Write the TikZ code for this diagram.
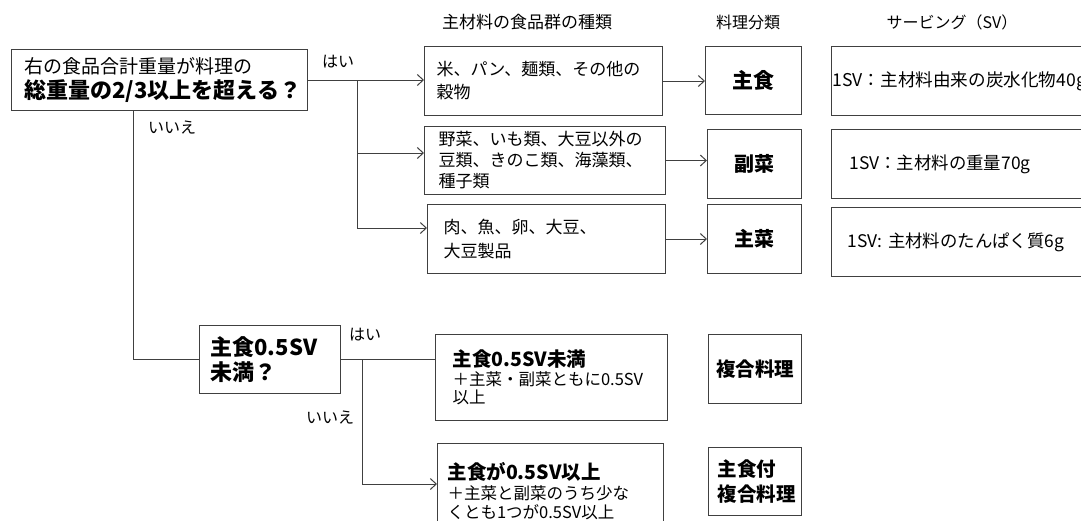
\documentclass[tikz,border=0pt]{standalone}
\usepackage{fontspec}
\setmainfont{Noto Sans CJK JP}
\usetikzlibrary{arrows.meta}
\definecolor{linec}{gray}{0.25}
\begin{document}
\begin{tikzpicture}[x=1pt,y=-1pt,
  ln/.style={draw=linec,line width=1pt},
  arr/.style={ln,-{Straight Barb[length=6pt,width=11pt,line width=1pt]}},
  bx/.style={draw=linec,line width=1pt,anchor=north west,inner ysep=0pt,align=left},
  cbx/.style={draw=linec,line width=1pt,anchor=north west,inner ysep=0pt,align=center},
  lbl/.style={inner sep=0pt,font=\fontsize{16pt}{20pt}\selectfont}
]
\useasboundingbox (0,0) rectangle (1081,520);
\clip (0,0) rectangle (1081,520);

% headers
\node[lbl,font=\fontsize{17pt}{20pt}\selectfont] (h1) at (527,22) {主材料の食品群の種類};
\node[lbl] (h2) at (748,22) {料理分類};
\node[lbl] (h3) at (952,22) {サービング（SV）};

% first question
\node[bx,minimum width=296pt,minimum height=61pt,text width=270pt,inner xsep=13pt,
      font=\fontsize{19pt}{25pt}\selectfont] (q1) at (11,49)
  {右の食品合計重量が料理の\\{\fontsize{22pt}{25pt}\selectfont\bfseries 総重量の2/3以上を超える？}};

% food groups
\node[bx,minimum width=238pt,minimum height=69pt,text width=214pt,inner xsep=12pt,
      font=\fontsize{17pt}{23pt}\selectfont] (a1) at (424,46)
  {米、パン、麺類、その他の\\穀物};
\node[bx,minimum width=241pt,minimum height=68pt,text width=213pt,inner xsep=14pt,
      font=\fontsize{17pt}{21pt}\selectfont] (a2) at (424,126)
  {野菜、いも類、大豆以外の\\豆類、きのこ類、海藻類、\\種子類};
\node[bx,minimum width=238pt,minimum height=69pt,text width=206pt,inner xsep=16pt,
      font=\fontsize{17pt}{24pt}\selectfont] (a3) at (427,204)
  {肉、魚、卵、大豆、\\大豆製品\\[6pt]};

% categories
\node[cbx,minimum width=96pt,minimum height=68pt,text width=90pt,inner xsep=3pt,
      font=\fontsize{21pt}{25pt}\selectfont\bfseries] (c1) at (705,46) {主食};
\node[cbx,minimum width=94pt,minimum height=69pt,text width=88pt,inner xsep=3pt,
      font=\fontsize{20pt}{25pt}\selectfont\bfseries] (c2) at (707,129) {副菜};
\node[cbx,minimum width=94pt,minimum height=69pt,text width=88pt,inner xsep=3pt,
      font=\fontsize{20pt}{25pt}\selectfont\bfseries] (c3) at (707,204) {主菜};

% servings
\node[bx,minimum width=300pt,minimum height=69pt,text width=298pt,inner xsep=1pt,
      font=\fontsize{17.6pt}{23pt}\selectfont] (s1) at (831,46) {1SV：主材料由来の炭水化物40g};
\node[bx,minimum width=300pt,minimum height=69pt,text width=264pt,inner xsep=18pt,
      font=\fontsize{17.4pt}{23pt}\selectfont] (s2) at (831,129) {1SV：主材料の重量70g};
\node[bx,minimum width=300pt,minimum height=69pt,text width=268pt,inner xsep=16pt,
      font=\fontsize{17.4pt}{23pt}\selectfont] (s3) at (831,207) {1SV: 主材料のたんぱく質6g};

% second question
\node[bx,minimum width=141pt,minimum height=68pt,text width=119pt,inner xsep=11pt,
      font=\fontsize{22pt}{25pt}\selectfont\bfseries] (q2) at (199,325)
  {主食0.5SV\\未満？};

\node[bx,minimum width=232pt,minimum height=86pt,text width=198pt,inner xsep=17pt,
      font=\fontsize{16.5pt}{18.5pt}\selectfont] (b1) at (435,334)
  {{\fontsize{19.5pt}{18.5pt}\selectfont\bfseries 主食0.5SV未満}\\＋主菜・副菜ともに0.5SV\\以上\\[14pt]};
\node[bx,minimum width=226pt,minimum height=96pt,text width=206pt,inner xsep=10pt,
      font=\fontsize{16.5pt}{19.5pt}\selectfont] (b2) at (437,443)
  {{\fontsize{19.5pt}{19.5pt}\selectfont\bfseries 主食が0.5SV以上}\\＋主菜と副菜のうち少な\\くとも1つが0.5SV以上};

\node[cbx,minimum width=93pt,minimum height=69pt,text width=89pt,inner xsep=2pt,
      font=\fontsize{19.5pt}{25pt}\selectfont\bfseries] (d1) at (708,334) {複合料理};
\node[bx,minimum width=93pt,minimum height=68pt,text width=75pt,inner xsep=9pt,
      font=\fontsize{19.5pt}{25pt}\selectfont\bfseries] (d2) at (708,447) {主食付\\複合料理};

% labels
\node[lbl] (yes1) at (338,62) {はい};
\node[lbl] (no1) at (172,128) {いいえ};
\node[lbl] (yes2) at (365,335) {はい};
\node[lbl] (no2) at (330,418) {いいえ};

% connectors, upper part
\coordinate (t0) at (357,78);
\coordinate (t1) at (357,153);
\coordinate (t2) at (357,228);
\draw[arr] (q1.east) -- (q1.east -| a1.west);
\draw[ln] (q1.east -| t0) -- (t2);
\draw[arr] (t1) -- (t1 -| a2.west);
\draw[arr] (t2) -- (t2 -| a3.west);
\draw[arr] (a1.east) -- (a1.east -| c1.west);
\draw[arr] (a2.east) -- (a2.east -| c2.west);
\draw[arr] (a3.east) -- (a3.east -| c3.west);

% connectors, lower part
\coordinate (n0) at (133,357);
\draw[ln] (q1.south -| n0) |- (q2.west);
\draw[ln] (q2.east) -- (q2.east -| b1.west);
\coordinate (m0) at (362,484);
\draw[arr] (q2.east -| m0) |- (b2.west |- m0);
\end{tikzpicture}
\end{document}
